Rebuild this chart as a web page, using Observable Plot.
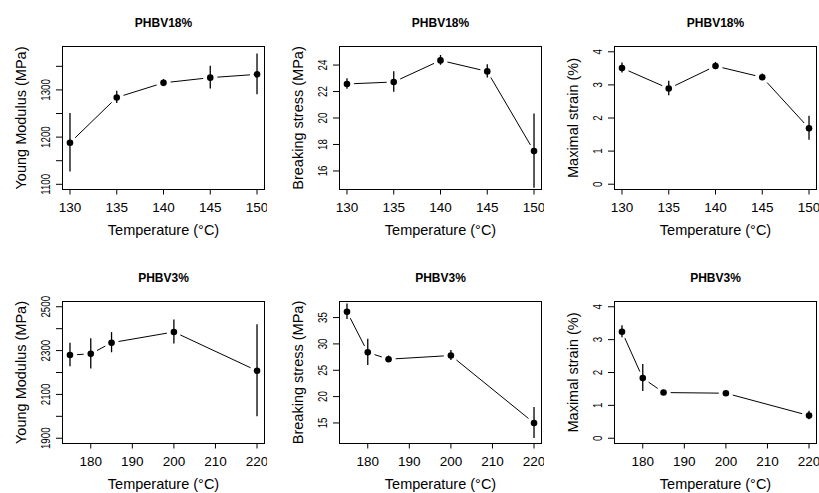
<!DOCTYPE html>
<html>
<head>
<meta charset="utf-8">
<script src="https://cdn.jsdelivr.net/npm/d3@7"></script>
<script src="https://cdn.jsdelivr.net/npm/@observablehq/plot@0.6"></script>
<style>
  body { margin: 0; background: #fff; }
  #fig { position: relative; width: 819px; height: 493px; overflow: hidden; background: #fff; }
  .panel { position: absolute; }
</style>
</head>
<body>
<div id="fig"></div>
<script>
// Processing temperatures (°C)
const tempA = [130, 135, 140, 145, 150];   // PHBV18%
const tempB = [175, 180, 185, 200, 220];   // PHBV3%

// PHBV18%: mean and standard deviation
const youngA = [1188, 1284, 1315, 1326, 1333];
const youngSdA = [62, 13, 7, 24, 43];
const stressA = [22.57, 22.72, 24.35, 23.52, 17.5];
const stressSdA = [0.4, 0.77, 0.37, 0.5, 2.8];
const strainA = [3.51, 2.89, 3.57, 3.23, 1.69];
const strainSdA = [0.15, 0.22, 0.11, 0.10, 0.36];

// PHBV3%: mean and standard deviation
const youngB = [2280, 2285, 2336, 2385, 2208];
const youngSdB = [54, 69, 46, 55, 210];
const stressB = [36.1, 28.4, 27.1, 27.8, 15.0];
const stressSdB = [1.47, 2.5, 0.6, 0.95, 2.95];
const strainB = [3.24, 1.83, 1.39, 1.37, 0.69];
const strainSdB = [0.18, 0.41, 0.07, 0.04, 0.13];

// Tick values
const xTicksA = [130, 135, 140, 145, 150];
const xTicksB = [180, 190, 200, 210, 220];
const yTicksYoungA = [1100, 1150, 1200, 1250, 1300, 1350];
const yLabelsYoungA = [1100, 1200, 1300];
const yTicksStressA = [16, 18, 20, 22, 24];
const yTicksStrain = [0, 1, 2, 3, 4];
const yTicksYoungB = [1900, 2000, 2100, 2200, 2300, 2400, 2500];
const yLabelsYoungB = [1900, 2100, 2300, 2500];
const yTicksStressB = [15, 20, 25, 30, 35];

// Text
const titleA = "PHBV18%";
const titleB = "PHBV3%";
const xTitle = "Temperature (°C)";
const yTitleYoung = "Young Modulus (MPa)";
const yTitleStress = "Breaking stress (MPa)";
const yTitleStrain = "Maximal strain (%)";

const FONT = '"Liberation Sans", Arial, Helvetica, sans-serif';
const fig = document.getElementById("fig");

function panel(o) {
  const rows = o.temps.map((t, i) => ({t, v: o.values[i], lo: o.values[i] - o.sd[i], hi: o.values[i] + o.sd[i]}));
  const segs = rows.slice(1).map((r, i) => ({x1: rows[i].t, y1: rows[i].v, x2: r.t, y2: r.v}));
  const shown = o.yLabels ?? o.yTicks;
  const mT = 30, mB = 50, mL = 62, mR = 3;
  const chart = Plot.plot({
    width: mL + 202 + mR,
    height: mT + o.boxH + mB,
    marginLeft: mL, marginRight: mR, marginTop: mT, marginBottom: mB,
    style: {fontFamily: FONT, fontSize: "13.5px", color: "#000", background: "transparent"},
    x: {domain: o.xDomain},
    y: {domain: o.yDomain},
    marks: [
      Plot.axisX({ticks: o.xTicks, tickSize: 5.5, tickPadding: 7, tickFormat: d => String(d), label: null}),
      Plot.axisY({ticks: o.yTicks, tickSize: 6, tickPadding: 7, tickRotate: -90,
                  tickFormat: d => shown.includes(d) ? String(d) : "", label: null}),
      Plot.text([xTitle], {text: d => d, frameAnchor: "bottom", dy: 40.6, textAnchor: "middle",
                           lineAnchor: "middle", fontSize: 14.5}),
      Plot.text([o.yTitle], {text: d => d, frameAnchor: "left", dx: -41.6, rotate: -90, textAnchor: "middle",
                             lineAnchor: "middle", fontSize: 14.5}),
      Plot.text([o.title], {text: d => d, frameAnchor: "top", dy: -19.5, textAnchor: "middle",
                            lineAnchor: "bottom", fontWeight: "bold", fontSize: 12}),
      Plot.arrow(segs, {x1: "x1", y1: "y1", x2: "x2", y2: "y2", insetStart: 7.5, insetEnd: 7.5,
                        headLength: 0, bend: 0, stroke: "#000", strokeWidth: 1}),
      Plot.ruleX(rows, {x: "t", y1: "lo", y2: "hi", stroke: "#000", strokeWidth: 1.3, clip: true}),
      Plot.dot(rows, {x: "t", y: "v", r: 3.3, fill: "#000", stroke: null}),
      Plot.frame({stroke: "#000", strokeWidth: 1})
    ]
  });
  // y tick labels are set in a narrow face along the axis
  d3.select(chart).selectAll('g[aria-label="y-axis tick label"] text')
    .attr("transform", function() { return this.getAttribute("transform") + " scale(0.72,1)"; });
  const div = document.createElement("div");
  div.className = "panel";
  div.style.left = o.left + "px";
  div.style.top = o.top + "px";
  div.appendChild(chart);
  fig.appendChild(div);
}

const colLeft = [0, 277, 552];
const rowTop = [16, 271];
const domA = [129.2, 150.8];
const domB = [173.2, 221.8];

panel({title: titleA, temps: tempA, values: youngA, sd: youngSdA, xDomain: domA, xTicks: xTicksA,
       yDomain: [1089, 1392], yTicks: yTicksYoungA, yLabels: yLabelsYoungA, yTitle: yTitleYoung,
       left: colLeft[0], top: rowTop[0], boxH: 143});
panel({title: titleA, temps: tempA, values: stressA, sd: stressSdA, xDomain: domA, xTicks: xTicksA,
       yDomain: [14.6, 25.4], yTicks: yTicksStressA, yTitle: yTitleStress,
       left: colLeft[1], top: rowTop[0], boxH: 143});
panel({title: titleA, temps: tempA, values: strainA, sd: strainSdA, xDomain: domA, xTicks: xTicksA,
       yDomain: [-0.16, 4.16], yTicks: yTicksStrain, yTitle: yTitleStrain,
       left: colLeft[2], top: rowTop[0], boxH: 143});
panel({title: titleB, temps: tempB, values: youngB, sd: youngSdB, xDomain: domB, xTicks: xTicksB,
       yDomain: [1876, 2524], yTicks: yTicksYoungB, yLabels: yLabelsYoungB, yTitle: yTitleYoung,
       left: colLeft[0], top: rowTop[1], boxH: 142});
panel({title: titleB, temps: tempB, values: stressB, sd: stressSdB, xDomain: domB, xTicks: xTicksB,
       yDomain: [11.1, 38.05], yTicks: yTicksStressB, yTitle: yTitleStress,
       left: colLeft[1], top: rowTop[1], boxH: 142});
panel({title: titleB, temps: tempB, values: strainB, sd: strainSdB, xDomain: domB, xTicks: xTicksB,
       yDomain: [-0.16, 4.16], yTicks: yTicksStrain, yTitle: yTitleStrain,
       left: colLeft[2], top: rowTop[1], boxH: 142});
</script>
</body>
</html>
